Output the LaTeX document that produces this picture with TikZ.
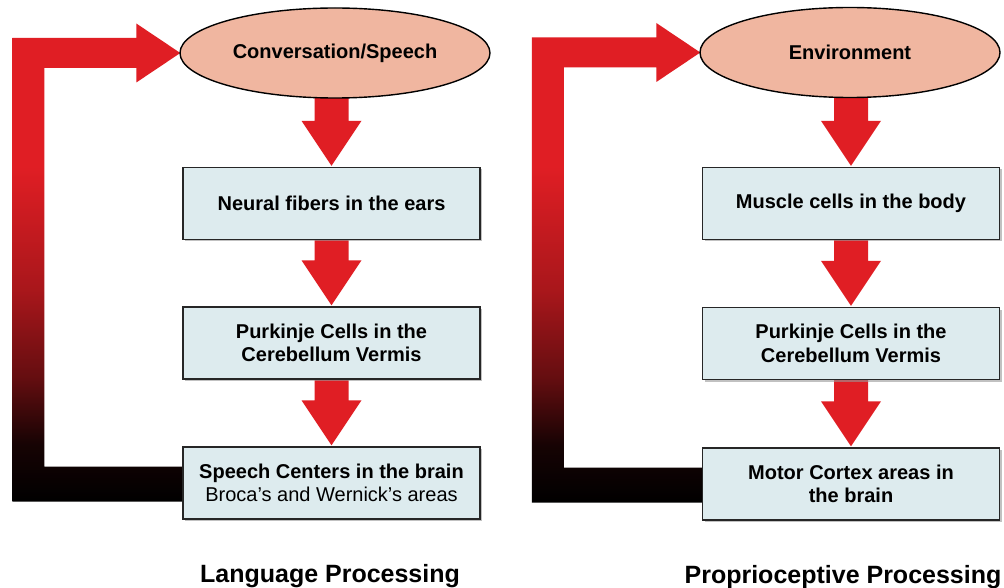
\documentclass[tikz,border=0pt]{standalone}
\usepackage{fontspec}
\setmainfont{Liberation Sans}
\usetikzlibrary{shapes.geometric,calc,shadows}
\definecolor{fbred}{RGB}{224,30,36}
\definecolor{boxfill}{RGB}{221,235,238}
\definecolor{ellfill}{RGB}{240,182,160}
\pgfdeclareverticalshading{feedbackshade}{100bp}{color(0bp)=(black); color(25bp)=(black); color(31bp)=(fbred!10!black); color(38bp)=(fbred!45!black); color(47bp)=(fbred!75!black); color(60bp)=(fbred); color(100bp)=(fbred)}
\pgfdeclarelayer{background}
\pgfsetlayers{background,main}
\tikzset{
  flowbox/.style={draw=black!85, line width=1.4pt, fill=boxfill, minimum width=297pt,
    minimum height=72pt, align=center, inner sep=0pt,
    font=\bfseries\fontsize{20}{23.5}\selectfont,
    drop shadow={shadow xshift=2pt, shadow yshift=-2pt, fill=black!40, opacity=0.6}},
  source/.style={ellipse, draw=black, line width=1.4pt, fill=ellfill, minimum width=310pt,
    minimum height=90pt, inner sep=0pt, font=\bfseries\fontsize{20}{23.5}\selectfont},
  paneltitle/.style={anchor=base, inner sep=0pt, font=\bfseries\fontsize{25}{30}\selectfont},
  fatred/.style={fill=fbred},
  loopbar/.style={shade, shading=feedbackshade}
}
\newcommand{\fatarrow}[2]{%
  \fill[fatred] let \p1=(#1.south), \p2=(#2.north) in
    (\x2-17pt,\y1+2pt) -- (\x2+17pt,\y1+2pt) -- (\x2+17pt,\y2+46pt) -- (\x2+30pt,\y2+46pt)
    -- (\x2,\y2+1pt) -- (\x2-30pt,\y2+46pt) -- (\x2-17pt,\y2+46pt) -- cycle;}
\newcommand{\loopback}[2]{%
  \path[loopbar] let \p1=(#1.west), \p2=(#2.west) in
    (\x1+1pt,\y1+16.5pt) -- (\x1-138pt,\y1+16.5pt) -- (\x1-138pt,\y2-15pt)
    -- (\x2-43pt,\y2-15pt) -- (\x2-43pt,\y2-29.5pt) -- (\x2+1pt,\y2)
    -- (\x2-43pt,\y2+29.5pt) -- (\x2-43pt,\y2+15pt) -- (\x1-170pt,\y2+15pt)
    -- (\x1-170pt,\y1-18.5pt) -- (\x1+1pt,\y1-18.5pt) -- cycle;}
\begin{document}
\begin{tikzpicture}[x=1pt,y=1pt]
  \useasboundingbox (0,0) rectangle (1004,-588);
  % left panel
  \node[source] (e1) at (335,-53) {Conversation/Speech};
  \node[flowbox] (b1) at (331.5,-203.5) {Neural fibers in the ears};
  \node[flowbox] (b2) at (331.5,-343) {Purkinje Cells in the\\Cerebellum Vermis};
  \node[flowbox] (b3) at (331.5,-483) {Speech Centers in the brain\\{\mdseries Broca's and Wernick's areas}};
  \node[paneltitle] (t1) at (330,-582) {Language Processing};
  % right panel
  \node[source, minimum width=300pt] (e2) at (850,-52.5) {Environment};
  \node[flowbox] (c1) at (851,-203.5) {Muscle cells in the body};
  \node[flowbox] (c2) at (851,-343.5) {Purkinje Cells in the\\Cerebellum Vermis};
  \node[flowbox] (c3) at (851,-484) {Motor Cortex areas in\\the brain};
  \node[paneltitle] (t2) at (843,-583) {Proprioceptive Processing};
  \begin{pgfonlayer}{background}
    \fill[white] (0,0) rectangle (1004,-588);
    \fatarrow{e1}{b1}
    \fatarrow{b1}{b2}
    \fatarrow{b2}{b3}
    \fatarrow{e2}{c1}
    \fatarrow{c1}{c2}
    \fatarrow{c2}{c3}
    \loopback{b3}{e1}
    \loopback{c3}{e2}
  \end{pgfonlayer}
\end{tikzpicture}
\end{document}
